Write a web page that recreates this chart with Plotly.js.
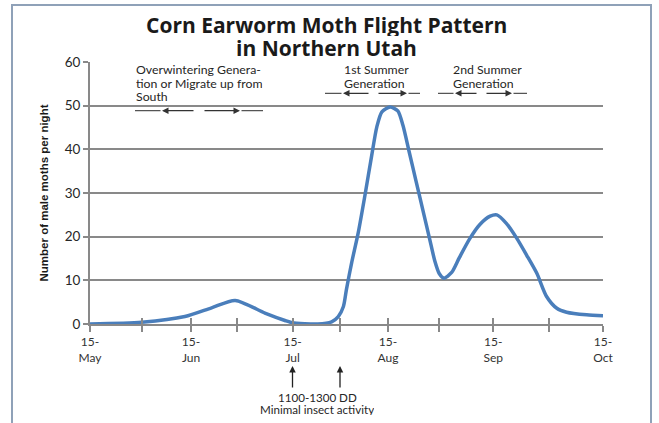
<!DOCTYPE html>
<html><head><meta charset="utf-8">
<script src="https://cdn.plot.ly/plotly-3.0.1.min.js"></script>
<style>
html,body{margin:0;padding:0;background:#fff;}
#wrap{position:relative;width:659px;height:423px;overflow:hidden;}
#chart{position:absolute;left:0;top:0;width:659px;height:423px;}
#frame{position:absolute;left:11px;top:4px;width:637px;height:440px;border:2px solid #8fa1b8;pointer-events:none;}
</style></head>
<body><div id="wrap"><div id="chart"></div><div id="frame"></div></div>
<script>
// Half-month index positions of the axis ticks (15-May .. 15-Oct)
const tickPos = [0, 1.01, 1.97, 2.87, 3.95, 4.87, 5.81, 6.81, 7.86, 8.94, 10];
const tickLabels = ['15-<br>May','','15-<br>Jun','','15-<br>Jul','','15-<br>Aug','','15-<br>Sep','','15-<br>Oct'];
// Flight curve (x in half-month index units, y = male moths per night)
const timeIdx = [0, 1.01, 1.85, 2.37, 2.83, 3.41, 3.80, 3.94, 4.44, 4.71, 4.84, 4.94, 5.00, 5.10, 5.23, 5.36, 5.49, 5.59, 5.69, 5.85, 6.00, 6.10, 6.22, 6.36, 6.50, 6.62, 6.72, 6.81, 6.90, 7.05, 7.20, 7.40, 7.60, 7.80, 7.93, 8.12, 8.32, 8.51, 8.71, 8.90, 9.10, 9.29, 9.68, 10.0];
const moths  = [0, 0.4, 1.7, 3.7, 5.4, 2.5, 0.8, 0.3, 0, 0.5, 1.7, 4.0, 8.0, 14.0, 21.0, 29.5, 38.5, 45.1, 48.6, 49.7, 48.8, 45.5, 39.5, 32.5, 25.5, 19.5, 14.5, 11.5, 10.5, 11.8, 15.2, 19.5, 22.8, 24.7, 25, 23, 19.6, 15.8, 11.6, 6.3, 3.6, 2.7, 2.1, 1.9];

const W = 659, H = 423, ML = 90, MR = 56, MT = 62, MB = 99;
const pw = W - ML - MR, ph = H - MT - MB;
const PX = px => (px - ML) / pw;          // pixel -> paper x
const PY = py => (H - MB - py) / ph;      // pixel -> paper y

const fam = 'Lato, "Open Sans", sans-serif';
const txtFont = {family: fam, size: 12.3, color: '#262626'};
const smallFont = {family: fam, size: 11.6, color: '#262626'};
const ann = [];
function line(text, px, py, anchor, font, h) {
  ann.push({x: PX(px), y: PY(py), xref: 'paper', yref: 'paper', text: text, showarrow: false,
    xanchor: anchor || 'left', yanchor: 'middle', font: font || txtFont, height: h || 13, valign: 'middle'});
}
const titleFont = {family: '"Open Sans", Lato, sans-serif', size: 21, color: '#1a1a1a'};
line('<b>Corn Earworm Moth Flight Pattern</b>', 326, 25, 'center', titleFont, 22);
line('<b>in Northern Utah</b>', 326, 48, 'center', titleFont, 22);
line('Overwintering Genera-', 134, 69);
line('tion or Migrate up from', 134, 83);
line('South', 134, 97);
line('1st Summer', 342, 69);
line('Generation', 342, 83);
line('2nd Summer', 451, 69);
line('Generation', 451, 83);
line('1100-1300 DD', 317, 397, 'center', smallFont, 11);
line('Minimal insect activity', 317, 409, 'center', smallFont, 11);

function seg(hx, hy, tx, ty, head, color) {
  ann.push({x: PX(hx), y: PY(hy), ax: tx - hx, ay: ty - hy, xref: 'paper', yref: 'paper',
    text: '', showarrow: true, arrowhead: head, arrowsize: 1, arrowwidth: 1.3, arrowcolor: color, standoff: 0});
}
function arrow(headPx, tailPx, otherPx, py) {
  seg(headPx, py, tailPx, py, 2, '#333');
  seg(otherPx, py, headPx, py, 0, '#555');
}
arrow(162, 195, 135, 110.7);
arrow(240, 203, 263, 110.7);
arrow(343, 370, 325, 93.3);
arrow(407, 377, 420, 93.3);
arrow(455, 478, 438, 93.3);
arrow(512, 485, 527, 93.3);
seg(292.5, 366, 292.5, 389, 2, '#222');
seg(340, 366, 340, 389, 2, '#222');

const grey = '#898989';
const traces = [
  {x: timeIdx, y: moths, type: 'scatter', mode: 'lines', line: {color: '#4a7ebb', width: 3.5, shape: 'spline', smoothing: 0.7},
   hoverinfo: 'skip', cliponaxis: false},
  {x: [tickPos[0]], y: [0], xaxis: 'x2', type: 'scatter', mode: 'none', hoverinfo: 'skip', showlegend: false}
];
const layout = {
  width: W, height: H, margin: {l: ML, r: MR, t: MT, b: MB},
  paper_bgcolor: '#fff', plot_bgcolor: '#fff', showlegend: false,
  xaxis: {range: [0, 10], tickmode: 'array', tickvals: tickPos, ticktext: tickLabels,
    showgrid: false, zeroline: false, showline: true, linecolor: grey, linewidth: 2,
    ticks: 'outside', ticklen: 6, tickwidth: 2, tickcolor: grey,
    tickfont: {family: fam, size: 12, color: '#333'}, fixedrange: true},
  xaxis2: {range: [0, 10], overlaying: 'x', anchor: 'y', tickmode: 'array', tickvals: tickPos, ticktext: tickPos.map(() => ''),
    showgrid: false, zeroline: false, showline: false, ticks: 'inside', ticklen: 6, tickwidth: 2, tickcolor: grey,
    side: 'bottom', fixedrange: true},
  yaxis: {range: [0, 60], dtick: 10, showgrid: true, gridcolor: grey, gridwidth: 2, zeroline: false,
    showline: true, linecolor: grey, linewidth: 2, ticks: 'outside', ticklen: 5, tickwidth: 2, tickcolor: grey,
    tickfont: {family: fam, size: 13.5, color: '#262626'},
    title: {text: '<b>Number of male moths per night</b>', standoff: 14,
      font: {family: '"Liberation Sans Narrow", "Arial Narrow", sans-serif', size: 11.5, color: '#1a1a1a'}},
    fixedrange: true},
  annotations: ann
};
Plotly.newPlot('chart', traces, layout, {displayModeBar: false, staticPlot: true});
</script></body></html>
